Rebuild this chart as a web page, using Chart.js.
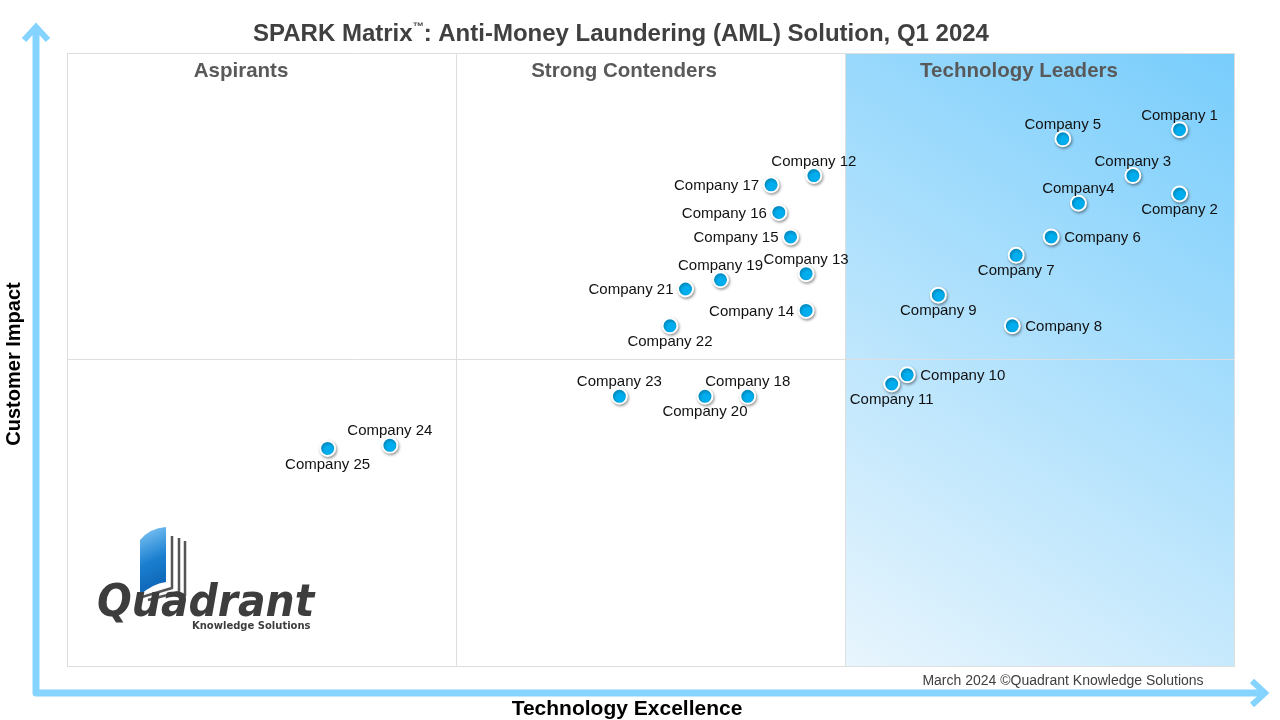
<!DOCTYPE html>
<html>
<head>
<meta charset="utf-8">
<script src="https://cdn.jsdelivr.net/npm/chart.js@4/dist/chart.umd.min.js"></script>
<style>
  html, body { margin: 0; padding: 0; background: #fff; }
  #wrap { width: 1280px; height: 720px; position: relative; }
</style>
</head>
<body>
<div id="wrap"><canvas id="chart" width="1280" height="720"></canvas></div>
<script>
// vendors and their scores (x = Technology Excellence, y = Customer Impact)
const companies = [
    "Company 1", "Company 2", "Company 3", "Company4", "Company 5",
    "Company 6", "Company 7", "Company 8", "Company 9", "Company 10",
    "Company 11", "Company 12", "Company 13", "Company 14", "Company 15",
    "Company 16", "Company 17", "Company 18", "Company 19", "Company 20",
    "Company 21", "Company 22", "Company 23", "Company 24", "Company 25"
];
const techExcellence = [
    2.86, 2.86, 2.74, 2.60, 2.56,
    2.53, 2.44, 2.43, 2.24, 2.16,
    2.12, 1.92, 1.90, 1.90, 1.86,
    1.83, 1.81, 1.75, 1.68, 1.64,
    1.59, 1.55, 1.42, 0.83, 0.67
];
const customerImpact = [
    1.75, 1.54, 1.60, 1.51, 1.72,
    1.40, 1.34, 1.11, 1.21, 0.95,
    0.92, 1.60, 1.28, 1.16, 1.40,
    1.48, 1.57, 0.88, 1.26, 0.88,
    1.23, 1.11, 0.88, 0.72, 0.71
];
// where each name sits relative to its dot
const labelSide = [
    "top", "bottom", "top", "top", "top",
    "right", "bottom", "right", "bottom", "right",
    "bottom", "top", "top", "left", "left",
    "left", "left", "top", "top", "bottom",
    "left", "bottom", "top", "top", "bottom"
];
const quadrants = ["Aspirants", "Strong Contenders", "Technology Leaders"];

const points = companies.map((c, i) => ({ x: techExcellence[i], y: customerImpact[i] }));

const FONT = "'Liberation Sans', Arial, sans-serif";

const backdrop = {
    id: "backdrop",
    beforeDraw(chart) {
        const ctx = chart.ctx;
        const xs = chart.scales.x, ys = chart.scales.y;
        const x0 = xs.getPixelForValue(2), x1 = xs.getPixelForValue(3);
        const y0 = ys.getPixelForValue(2), y1 = ys.getPixelForValue(0);
        const g = ctx.createLinearGradient(x1, y0, x0, y1);
        g.addColorStop(0, "#78cdfc");
        g.addColorStop(1, "#e8f5fd");
        ctx.save();
        ctx.fillStyle = g;
        ctx.fillRect(x0, y0, x1 - x0, y1 - y0);
        ctx.restore();
    },
    afterDraw(chart) {
        const ctx = chart.ctx;
        ctx.save();

        // title, with a small raised trademark sign
        ctx.fillStyle = "#404040";
        ctx.textBaseline = "middle";
        ctx.textAlign = "left";
        const t1 = "SPARK Matrix", t2 = "\u2122", t3 = ": Anti-Money Laundering (AML) Solution, Q1 2024";
        ctx.font = "bold 24px " + FONT;
        const w1 = ctx.measureText(t1).width, w3 = ctx.measureText(t3).width;
        ctx.font = "bold 11px " + FONT;
        const w2 = ctx.measureText(t2).width;
        let tx = 621 - (w1 + w2 + w3) / 2;
        ctx.font = "bold 24px " + FONT;
        ctx.fillText(t1, tx, 34);
        ctx.font = "bold 11px " + FONT;
        ctx.fillText(t2, tx + w1, 27);
        ctx.font = "bold 24px " + FONT;
        ctx.fillText(t3, tx + w1 + w2, 34);

        // quadrant names
        ctx.textAlign = "center";
        ctx.fillStyle = "#595959";
        ctx.font = "bold 20.5px " + FONT;
        const qx = [241, 624, 1019];
        quadrants.forEach((q, i) => ctx.fillText(q, qx[i], 71));

        // axis arrows
        ctx.strokeStyle = "#85d3ff";
        ctx.lineWidth = 7;
        ctx.lineJoin = "round";
        ctx.beginPath();
        ctx.moveTo(36, 27);
        ctx.lineTo(36, 693);
        ctx.lineTo(1264, 693);
        ctx.stroke();
        ctx.lineJoin = "miter";
        ctx.lineWidth = 6;
        ctx.beginPath();
        ctx.moveTo(24, 40); ctx.lineTo(36, 27); ctx.lineTo(48, 40);
        ctx.stroke();
        ctx.beginPath();
        ctx.moveTo(1252, 681); ctx.lineTo(1265, 693); ctx.lineTo(1252, 705);
        ctx.stroke();

        // axis titles
        ctx.fillStyle = "#000";
        ctx.font = "bold 21px " + FONT;
        ctx.fillText("Technology Excellence", 627, 709);
        ctx.save();
        ctx.translate(14, 364);
        ctx.rotate(-Math.PI / 2);
        ctx.font = "bold 20px " + FONT;
        ctx.fillText("Customer Impact", 0, 0);
        ctx.restore();

        // footer
        ctx.fillStyle = "#404040";
        ctx.font = "14px " + FONT;
        ctx.fillText("March 2024 \u00a9Quadrant Knowledge Solutions", 1063, 681);

        // logo
        ctx.strokeStyle = "#555";
        ctx.lineWidth = 2.5;
        ctx.beginPath();
        ctx.moveTo(172, 536); ctx.lineTo(172, 588); ctx.lineTo(142, 597);
        ctx.moveTo(179, 538); ctx.lineTo(179, 592); ctx.lineTo(148, 600);
        ctx.moveTo(185, 541); ctx.lineTo(185, 596);
        ctx.stroke();
        const bg = ctx.createLinearGradient(140, 530, 168, 590);
        bg.addColorStop(0, "#7cc4f4");
        bg.addColorStop(0.5, "#1b7fd0");
        bg.addColorStop(1, "#0b5fb0");
        ctx.fillStyle = bg;
        ctx.beginPath();
        ctx.moveTo(140, 540);
        ctx.quadraticCurveTo(150, 528, 166, 527);
        ctx.lineTo(166, 582);
        ctx.quadraticCurveTo(152, 584, 140, 595);
        ctx.closePath();
        ctx.fill();
        ctx.fillStyle = "#3d3d3d";
        ctx.textAlign = "left";
        ctx.textBaseline = "alphabetic";
        ctx.save();
        ctx.translate(97, 616);
        ctx.scale(0.93, 1);
        ctx.font = "italic bold 44px 'DejaVu Sans', sans-serif";
        ctx.fillText("Quadrant", 0, 0);
        ctx.restore();
        ctx.font = "bold 10px 'DejaVu Sans', sans-serif";
        ctx.fillText("Knowledge Solutions", 192, 629);

        // company names
        ctx.fillStyle = "#111";
        ctx.font = "15px " + FONT;
        ctx.textBaseline = "middle";
        const meta = chart.getDatasetMeta(0);
        meta.data.forEach((pt, i) => {
            const side = labelSide[i];
            let lx = pt.x, ly = pt.y;
            if (side === "top") { ctx.textAlign = "center"; ly -= 14; }
            else if (side === "bottom") { ctx.textAlign = "center"; ly += 16; }
            else if (side === "left") { ctx.textAlign = "right"; lx -= 12; ly += 1; }
            else { ctx.textAlign = "left"; lx += 13; ly += 1; }
            ctx.fillText(companies[i], lx, ly);
        });
        ctx.restore();
    }
};

const dotShadow = {
    id: "dotShadow",
    beforeDatasetDraw(chart) {
        chart.ctx.save();
        chart.ctx.shadowColor = "rgba(0,0,0,0.35)";
        chart.ctx.shadowBlur = 3;
        chart.ctx.shadowOffsetX = 1;
        chart.ctx.shadowOffsetY = 1.5;
    },
    afterDatasetDraw(chart) {
        chart.ctx.restore();
    }
};

new Chart(document.getElementById("chart"), {
    type: "scatter",
    data: {
        datasets: [{
            data: points,
            backgroundColor: "#00aeef",
            borderColor: "#ffffff",
            borderWidth: 2,
            pointRadius: 7.5,
            pointHoverRadius: 7.5
        }]
    },
    options: {
        responsive: false,
        animation: false,
        layout: { padding: { left: 67, right: 46, top: 53, bottom: 54 } },
        plugins: { legend: { display: false }, tooltip: { enabled: false } },
        scales: {
            x: {
                min: 0, max: 3,
                ticks: { display: false, stepSize: 1 },
                grid: { color: "#dedede", drawTicks: false, lineWidth: 1 },
                border: { color: "#dedede", width: 1 }
            },
            y: {
                min: 0, max: 2,
                ticks: { display: false, stepSize: 1 },
                grid: { color: "#dedede", drawTicks: false, lineWidth: 1 },
                border: { color: "#dedede", width: 1 }
            }
        }
    },
    plugins: [backdrop, dotShadow]
});
</script>
</body>
</html>
